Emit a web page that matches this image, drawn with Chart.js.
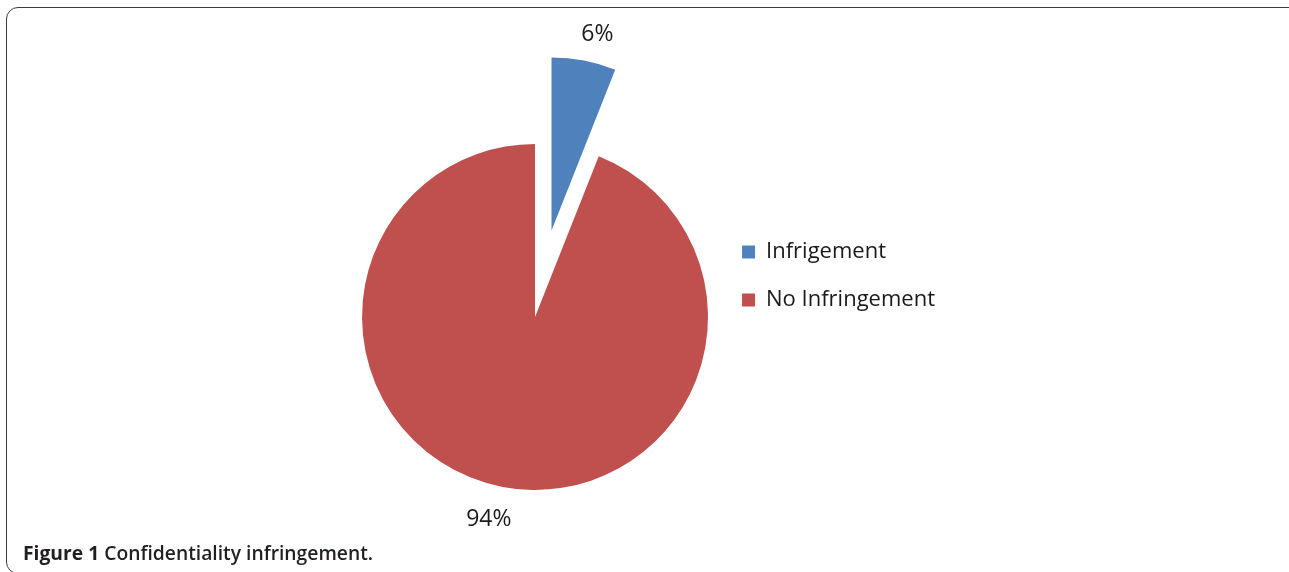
<!DOCTYPE html>
<html>
<head>
<meta charset="utf-8">
<title>Confidentiality infringement</title>
<script src="https://cdn.jsdelivr.net/npm/chart.js@4/dist/chart.umd.min.js"></script>
<style>
  html, body { margin: 0; padding: 0; background: #fff; }
  body { width: 1289px; height: 572px; position: relative; overflow: hidden; font-family: "Open Sans", sans-serif; }
  #frame { position: absolute; left: 6px; top: 7px; width: 1300px; height: 567px; border: 1.5px solid #3c3c3c; border-radius: 12px; box-sizing: border-box; }
  #chart { position: absolute; left: 0; top: 0; }
  #caption { position: absolute; left: 23px; top: 539px; font-size: 19.3px; font-weight: 600; color: #231f20; white-space: nowrap; }
  #caption b { font-weight: 700; }
</style>
</head>
<body>
<div id="frame"></div>
<canvas id="chart" width="1289" height="572"></canvas>
<div id="caption"><b>Figure 1</b> Confidentiality infringement.</div>
<script>
// values
const labels = ['Infrigement', 'No Infringement'];
const percents = [6, 94];

Chart.defaults.font.family = '"Open Sans", sans-serif';

// pull slices out of the pie along their middle angle (Excel style explode,
// the built in offset also grows the slice so it is not used here)
const explode = {
  id: 'explode',
  beforeDatasetsDraw(chart, args, opts) {
    const area = chart.chartArea;
    const cx = (area.left + area.right) / 2;
    const cy = (area.top + area.bottom) / 2;
    chart.getDatasetMeta(0).data.forEach((arc, i) => {
      const mid = (arc.startAngle + arc.endAngle) / 2;
      const dist = opts.distance[i] || 0;
      arc.x = cx + Math.cos(mid) * dist;
      arc.y = cy + Math.sin(mid) * dist;
    });
  }
};

// percent labels outside each slice
const pctLabels = {
  id: 'pctLabels',
  afterDatasetsDraw(chart) {
    const ctx = chart.ctx;
    const meta = chart.getDatasetMeta(0);
    ctx.save();
    ctx.font = '23px "Open Sans"';
    ctx.fillStyle = '#1a1a1a';
    ctx.textAlign = 'center';
    ctx.textBaseline = 'middle';
    meta.data.forEach((arc, i) => {
      const mid = (arc.startAngle + arc.endAngle) / 2;
      const text = percents[i] + '%';
      const w = ctx.measureText(text).width;
      const d = arc.outerRadius + 17.5 + Math.abs(Math.cos(mid)) * w / 2 + Math.abs(Math.sin(mid)) * 9;
      ctx.fillText(text, arc.x + Math.cos(mid) * d + Math.sign(Math.cos(mid)) * 8, arc.y + Math.sin(mid) * d + 2.5);
    });
    ctx.restore();
  }
};

new Chart(document.getElementById('chart'), {
  type: 'pie',
  data: {
    labels: labels,
    datasets: [{
      data: percents,
      backgroundColor: ['#4F81BD', '#C0504D'],
      borderWidth: 0,
      hoverOffset: 0,
      clip: false
    }]
  },
  options: {
    responsive: false,
    animation: false,
    radius: 173,
    cutout: '0%',
    layout: { padding: { left: 354, top: 215, right: 344, bottom: 153 } },
    plugins: {
      explode: { distance: [88, 0] },
      legend: {
        position: 'right',
        align: 'start',
        labels: {
          boxWidth: 13,
          boxHeight: 13,
          padding: 26,
          color: '#1a1a1a',
          font: { size: 22 }
        }
      },
      tooltip: { enabled: false }
    }
  },
  plugins: [explode, pctLabels]
});
</script>
</body>
</html>
